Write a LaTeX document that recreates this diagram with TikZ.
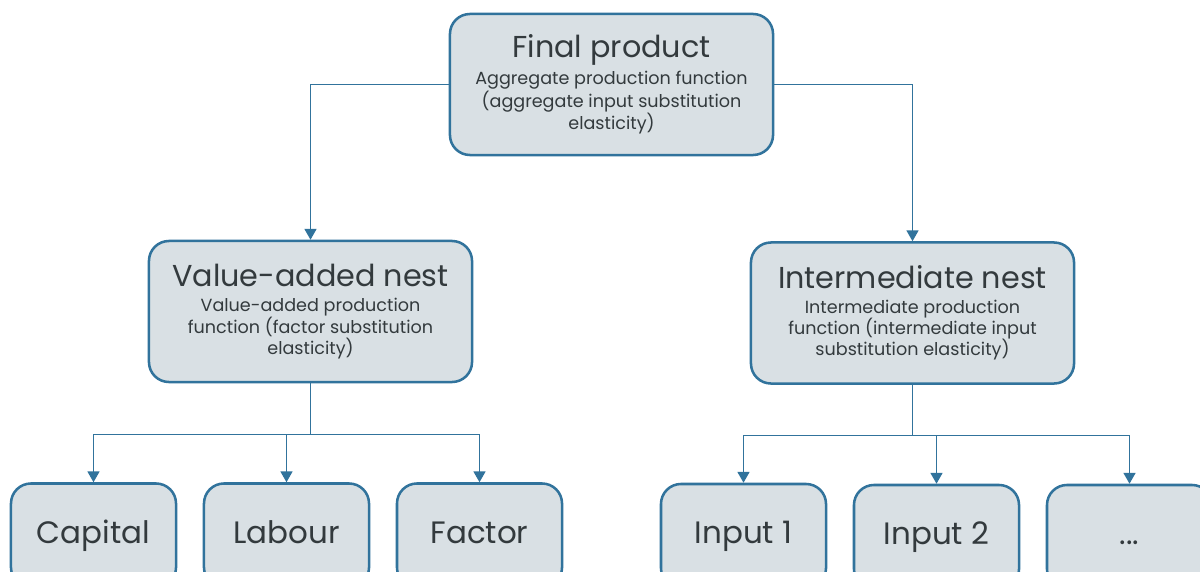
\documentclass[tikz,border=0pt]{standalone}
\usepackage{fontspec}
\setmainfont{Poppins}
\definecolor{nestBlue}{HTML}{31739C}
\definecolor{nestFill}{HTML}{D9E0E4}
\definecolor{nestInk}{HTML}{333A3D}
\usetikzlibrary{arrows.meta, positioning}
\newcommand{\nesttitle}{\fontsize{21.5}{24}\selectfont}
\newcommand{\nestsub}{\fontsize{12.5}{15}\selectfont}
\newcommand{\leafsize}{\fontsize{22}{26}\selectfont}

\begin{document}
\begin{tikzpicture}[
        x=0.025cm, y=-0.025cm,
        nestbox/.style={
          rounded corners=0.5cm,
          draw=nestBlue,
          fill=nestFill,
          text=nestInk,
          minimum width=8.075cm,
          minimum height=3.525cm,
          align=center,
          font=\nestsub,
          inner sep=0pt,
          line width=1.8pt,
        },
        leafbox/.style={nestbox, minimum width=4.125cm, minimum height=2.6cm,
          text height=16pt, text depth=5pt, font=\leafsize},
        arr/.style={-{Triangle[length=0.27cm, width=0.3cm]}, nestBlue, line width=0.9pt},
        joint/.style={nestBlue, line width=0.9pt},
      ]
        \clip (0,0) rectangle (1200,571);
        \fill[white] (0,0) rectangle (1200,571);

        \node[nestbox] (final) at (611.5,84.5) {{\nesttitle Final product}\\[3pt]Aggregate production function\\(aggregate input substitution\\elasticity)};
        \node[nestbox] (value) at (310.5,311.5) {{\nesttitle Value-added nest}\\[3pt]Value-added production\\function (factor substitution\\elasticity)};
        \node[nestbox] (inter) at (912.5,313) {{\nesttitle Intermediate nest}\\[3pt]Intermediate production\\function (intermediate input\\substitution elasticity)};

        \node[leafbox] (capital) at (93.5,535.5) {Capital};
        \node[leafbox] (labour) at (286.5,535.5) {Labour};
        \node[leafbox] (factor) at (479.5,535.5) {Factor};
        \node[leafbox] (input1) at (743.5,536) {Input 1};
        \node[leafbox] (input2) at (936.5,537) {Input 2};
        \node[leafbox] (more) at (1129.5,537) {...};

        \draw[arr] (final.west) -| (value.north);
        \draw[arr] (final.east) -| (inter.north);

        \draw[joint] (value.south) -- ++(0,51) coordinate (vjoin);
        \draw[arr] (vjoin) -| (capital.north);
        \draw[arr] (vjoin) -| (labour.north);
        \draw[arr] (vjoin) -| (factor.north);

        \draw[joint] (inter.south) -- ++(0,51) coordinate (ijoin);
        \draw[arr] (ijoin) -| (input1.north);
        \draw[arr] (ijoin) -| (input2.north);
        \draw[arr] (ijoin) -| (more.north);
      \end{tikzpicture}
\end{document}
